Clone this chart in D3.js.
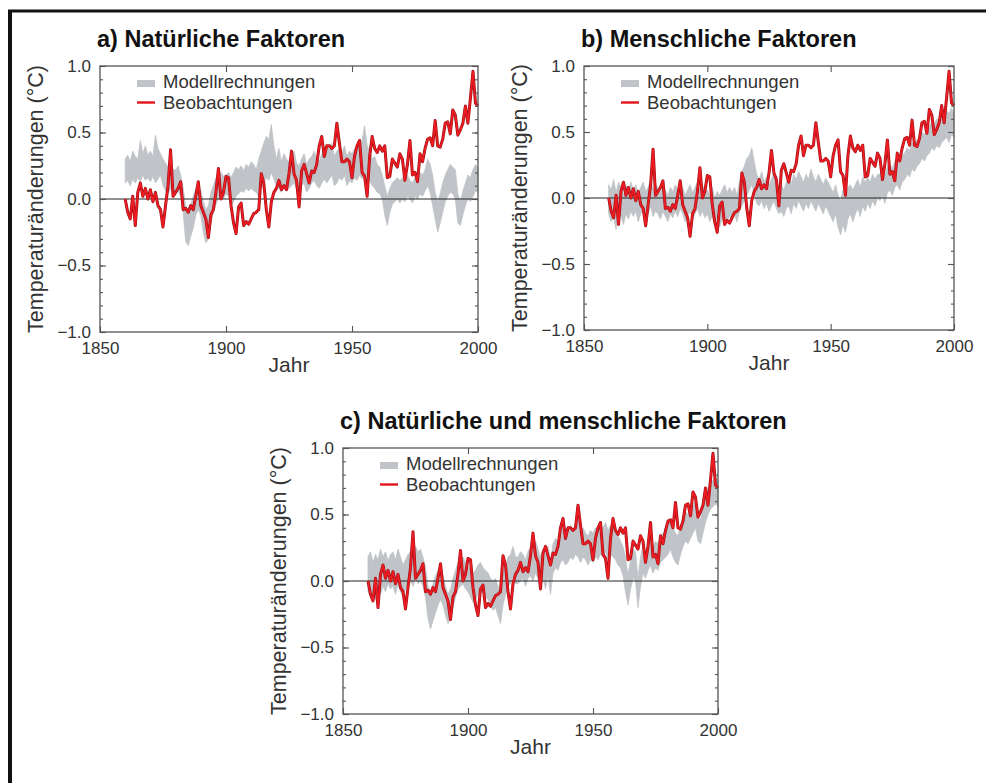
<!DOCTYPE html>
<html>
<head>
<meta charset="utf-8">
<script src="https://cdn.jsdelivr.net/npm/d3@7"></script>
<style>
  body { margin: 0; background: #fff; }
  svg { display: block; font-family: "Liberation Sans", Arial, Helvetica, sans-serif; }
</style>
</head>
<body>
<svg id="chart" width="986" height="783"></svg>
<script>
// years of the record
const years = d3.range(1860, 2001);

// observed global temperature change (°C), 1860-2000
const observed = [
  0.00, -0.10, -0.15, 0.02, -0.20, 0.05, 0.12, 0.02, 0.08, 0.00,
  0.07, -0.02, 0.05, -0.05, -0.08, -0.21, -0.05, 0.10, 0.37, 0.02,
  0.05, 0.08, 0.13, -0.08, -0.07, -0.10, -0.05, -0.08, 0.02, 0.13,
  -0.05, -0.10, -0.15, -0.29, -0.12, -0.08, 0.05, 0.23, 0.00, 0.05,
  0.17, 0.16, -0.05, -0.18, -0.26, -0.06, -0.03, -0.20, -0.17, -0.19,
  -0.15, -0.11, -0.10, -0.08, 0.19, 0.12, -0.08, -0.21, -0.02, 0.05,
  0.08, 0.14, 0.07, 0.10, 0.07, 0.19, 0.36, 0.19, 0.14, -0.06,
  0.21, 0.26, 0.19, 0.12, 0.21, 0.20, 0.26, 0.40, 0.47, 0.32,
  0.40, 0.40, 0.38, 0.40, 0.57, 0.42, 0.28, 0.28, 0.30, 0.28,
  0.16, 0.32, 0.40, 0.44, 0.20, 0.17, 0.02, 0.32, 0.47, 0.38,
  0.35, 0.40, 0.36, 0.40, 0.16, 0.17, 0.30, 0.27, 0.24, 0.34,
  0.30, 0.14, 0.26, 0.44, 0.18, 0.20, 0.13, 0.34, 0.28, 0.38,
  0.45, 0.46, 0.40, 0.59, 0.40, 0.39, 0.45, 0.57, 0.58, 0.49,
  0.67, 0.63, 0.48, 0.52, 0.57, 0.70, 0.57, 0.76, 0.96, 0.72,
  0.70
];

// model range, natural forcing only
const naturalLow = [
  0.12, 0.14, 0.10, 0.15, 0.12, 0.16, 0.13, 0.18, 0.14, 0.16,
  0.13, 0.17, 0.12, 0.15, 0.18, 0.10, 0.06, 0.04, 0.08, 0.02,
  0.04, 0.06, 0.02, -0.10, -0.32, -0.35, -0.28, -0.22, -0.12, -0.08,
  -0.12, -0.25, -0.33, -0.30, -0.18, -0.10, -0.04, 0.00, 0.02, 0.00,
  0.04, 0.02, -0.05, -0.02, 0.02, 0.04, 0.06, 0.05, 0.08, 0.06,
  0.08, 0.06, 0.05, 0.02, 0.08, 0.12, 0.16, 0.14, 0.20, 0.15,
  0.10, 0.08, 0.05, 0.10, 0.06, 0.08, 0.10, 0.12, 0.07, 0.05,
  0.10, 0.12, 0.05, 0.08, 0.12, 0.14, 0.10, 0.08, 0.12, 0.15,
  0.12, 0.15, 0.18, 0.10, 0.12, 0.16, 0.14, 0.18, 0.10, 0.14,
  0.12, 0.16, 0.14, 0.18, 0.15, 0.20, 0.12, 0.14, 0.10, 0.08,
  0.05, 0.04, 0.00, -0.12, -0.20, -0.10, -0.04, -0.02, 0.00, -0.03,
  0.00, -0.02, 0.02, 0.00, -0.03, 0.02, 0.00, 0.04, 0.02, 0.06,
  0.10, 0.05, -0.05, -0.15, -0.25, -0.18, -0.10, -0.02, 0.02, 0.05,
  0.04, 0.00, -0.18, -0.20, -0.12, -0.05, 0.00, -0.02, 0.02, 0.06,
  0.05
];
const naturalHigh = [
  0.30, 0.33, 0.28, 0.36, 0.32, 0.30, 0.44, 0.34, 0.40, 0.33,
  0.36, 0.32, 0.48, 0.38, 0.34, 0.30, 0.27, 0.24, 0.28, 0.22,
  0.22, 0.25, 0.18, 0.08, -0.05, -0.10, -0.04, 0.02, 0.08, 0.10,
  0.06, -0.02, -0.08, -0.05, 0.05, 0.10, 0.16, 0.18, 0.20, 0.17,
  0.18, 0.20, 0.16, 0.20, 0.24, 0.22, 0.25, 0.21, 0.26, 0.24,
  0.28, 0.26, 0.22, 0.30, 0.36, 0.42, 0.47, 0.45, 0.56, 0.40,
  0.30, 0.38, 0.28, 0.34, 0.30, 0.28, 0.32, 0.36, 0.27, 0.25,
  0.30, 0.34, 0.26, 0.30, 0.32, 0.36, 0.30, 0.28, 0.34, 0.38,
  0.34, 0.40, 0.42, 0.32, 0.36, 0.38, 0.34, 0.40, 0.32, 0.36,
  0.34, 0.38, 0.36, 0.40, 0.44, 0.55, 0.40, 0.36, 0.30, 0.32,
  0.26, 0.24, 0.18, 0.10, 0.02, 0.08, 0.12, 0.14, 0.16, 0.14,
  0.16, 0.12, 0.18, 0.14, 0.12, 0.16, 0.14, 0.20, 0.18, 0.22,
  0.30, 0.26, 0.18, 0.05, -0.02, 0.04, 0.12, 0.18, 0.22, 0.26,
  0.24, 0.22, 0.04, -0.02, 0.06, 0.12, 0.18, 0.16, 0.22, 0.26,
  0.24
];

// model range, anthropogenic forcing only
const anthroLow = [
  -0.12, -0.18, -0.15, -0.24, -0.10, -0.14, -0.20, -0.12, -0.16, -0.10,
  -0.14, -0.10, -0.18, -0.12, -0.08, -0.16, -0.12, -0.06, -0.14, -0.10,
  -0.12, -0.16, -0.10, -0.14, -0.18, -0.12, -0.15, -0.10, -0.14, -0.08,
  -0.12, -0.18, -0.14, -0.10, -0.16, -0.12, -0.08, -0.14, -0.10, -0.15,
  -0.12, -0.18, -0.14, -0.20, -0.15, -0.22, -0.16, -0.12, -0.18, -0.14,
  -0.16, -0.12, -0.18, -0.10, -0.06, -0.02, 0.02, 0.06, 0.10, 0.04,
  -0.04, -0.06, -0.02, -0.08, -0.04, -0.10, -0.06, -0.02, -0.08, -0.12,
  -0.10, -0.14, -0.08, -0.06, -0.12, -0.04, -0.08, -0.02, -0.06, -0.10,
  -0.04, -0.08, -0.02, -0.06, -0.10, -0.04, -0.08, -0.12, -0.06, -0.10,
  -0.14, -0.18, -0.12, -0.22, -0.28, -0.20, -0.26, -0.16, -0.12, -0.18,
  -0.12, -0.08, -0.14, -0.06, -0.10, -0.04, -0.08, -0.02, -0.06, 0.00,
  -0.02, 0.02, -0.04, 0.04, 0.06, 0.02, 0.08, 0.10, 0.06, 0.12,
  0.14, 0.18, 0.16, 0.22, 0.20, 0.24, 0.26, 0.30, 0.28, 0.32,
  0.34, 0.38, 0.36, 0.40, 0.38, 0.42, 0.44, 0.46, 0.42, 0.48,
  0.46
];
const anthroHigh = [
  0.10, 0.06, 0.14, 0.04, 0.12, 0.08, 0.02, 0.10, 0.06, 0.12,
  0.06, 0.10, 0.04, 0.08, 0.12, 0.05, 0.08, 0.14, 0.06, 0.10,
  0.08, 0.04, 0.10, 0.06, 0.02, 0.08, 0.05, 0.10, 0.06, 0.12,
  0.08, 0.02, 0.06, 0.10, 0.04, 0.08, 0.12, 0.06, 0.10, 0.05,
  0.06, 0.02, 0.08, 0.00, 0.05, 0.02, 0.06, 0.10, 0.04, 0.08,
  0.04, 0.08, 0.02, 0.12, 0.20, 0.24, 0.30, 0.32, 0.38, 0.28,
  0.18, 0.14, 0.20, 0.12, 0.16, 0.10, 0.14, 0.20, 0.12, 0.08,
  0.10, 0.06, 0.12, 0.16, 0.10, 0.18, 0.14, 0.20, 0.16, 0.12,
  0.18, 0.14, 0.22, 0.16, 0.12, 0.18, 0.14, 0.10, 0.15, 0.12,
  0.08, 0.04, 0.10, 0.02, -0.02, 0.06, 0.00, 0.08, 0.10, 0.06,
  0.10, 0.14, 0.08, 0.16, 0.12, 0.16, 0.12, 0.18, 0.14, 0.18,
  0.18, 0.20, 0.16, 0.24, 0.26, 0.22, 0.28, 0.30, 0.26, 0.32,
  0.34, 0.38, 0.36, 0.42, 0.40, 0.44, 0.46, 0.50, 0.48, 0.52,
  0.54, 0.58, 0.56, 0.60, 0.58, 0.62, 0.64, 0.66, 0.64, 0.68,
  0.64
];

// model range, natural and anthropogenic forcing
const combinedLow = [
  -0.08, -0.12, -0.06, -0.14, -0.05, -0.10, -0.04, -0.08, -0.02, -0.06,
  -0.04, -0.10, -0.02, -0.08, -0.12, -0.06, -0.02, 0.00, -0.04, 0.02,
  -0.02, 0.00, -0.04, -0.12, -0.28, -0.36, -0.30, -0.24, -0.18, -0.14,
  -0.18, -0.26, -0.32, -0.28, -0.20, -0.12, -0.06, -0.04, -0.02, -0.06,
  -0.08, -0.12, -0.16, -0.14, -0.10, -0.06, -0.08, -0.12, -0.14, -0.18,
  -0.22, -0.20, -0.26, -0.32, -0.18, -0.10, -0.04, -0.02, 0.04, -0.02,
  -0.02, 0.00, 0.02, -0.04, 0.02, 0.04, 0.00, 0.06, 0.02, -0.04,
  0.02, -0.06, 0.04, -0.10, 0.06, 0.10, 0.08, 0.14, 0.16, 0.12,
  0.14, 0.18, 0.16, 0.20, 0.18, 0.14, 0.18, 0.16, 0.12, 0.16,
  0.14, 0.18, 0.16, 0.20, 0.18, 0.22, 0.16, 0.20, 0.18, 0.16,
  0.12, 0.10, 0.04, -0.08, -0.18, -0.06, 0.02, 0.00, -0.20, -0.04,
  0.06, 0.02, 0.08, 0.12, 0.06, 0.10, 0.08, 0.14, 0.16, 0.18,
  0.20, 0.24, 0.18, 0.14, 0.12, 0.20, 0.26, 0.30, 0.28, 0.32,
  0.36, 0.40, 0.30, 0.28, 0.36, 0.44, 0.50, 0.54, 0.56, 0.58,
  0.56
];
const combinedHigh = [
  0.18, 0.22, 0.14, 0.20, 0.16, 0.24, 0.18, 0.22, 0.15, 0.20,
  0.22, 0.16, 0.24, 0.18, 0.12, 0.16, 0.20, 0.22, 0.24, 0.26,
  0.22, 0.24, 0.18, 0.10, -0.04, -0.08, -0.02, 0.04, 0.08, 0.10,
  0.04, -0.04, -0.10, -0.06, 0.02, 0.08, 0.14, 0.16, 0.18, 0.14,
  0.12, 0.08, 0.06, 0.08, 0.12, 0.14, 0.10, 0.08, 0.06, 0.02,
  0.00, 0.02, -0.04, -0.10, 0.06, 0.12, 0.18, 0.20, 0.26, 0.18,
  0.18, 0.22, 0.20, 0.16, 0.22, 0.26, 0.22, 0.30, 0.24, 0.18,
  0.24, 0.20, 0.26, 0.14, 0.28, 0.32, 0.30, 0.36, 0.40, 0.34,
  0.38, 0.42, 0.36, 0.44, 0.46, 0.38, 0.40, 0.36, 0.34, 0.38,
  0.36, 0.40, 0.38, 0.42, 0.40, 0.44, 0.38, 0.42, 0.40, 0.38,
  0.34, 0.30, 0.26, 0.18, 0.04, 0.16, 0.24, 0.22, 0.02, 0.18,
  0.26, 0.22, 0.28, 0.32, 0.26, 0.30, 0.28, 0.34, 0.36, 0.38,
  0.42, 0.46, 0.40, 0.36, 0.34, 0.42, 0.48, 0.52, 0.50, 0.54,
  0.56, 0.60, 0.48, 0.46, 0.56, 0.64, 0.70, 0.74, 0.76, 0.78,
  0.76
];

const yTicks = [-1, -0.5, 0, 0.5, 1];
const xTicks = [1850, 1900, 1950, 2000];
const legendLabels = ["Modellrechnungen", "Beobachtungen"];
const titles = [
  "a) Natürliche Faktoren",
  "b) Menschliche Faktoren",
  "c) Natürliche und menschliche Faktoren"
];

const panels = [
  { title: titles[0], low: naturalLow, high: naturalHigh, left: 100, top: 66, w: 378, h: 266 },
  { title: titles[1], low: anthroLow, high: anthroHigh, left: 584, top: 66, w: 370, h: 264 },
  { title: titles[2], low: combinedLow, high: combinedHigh, left: 343, top: 448, w: 375, h: 266 }
];

const svg = d3.select("#chart");

// outer frame (only top and left edge visible)
svg.append("line").attr("x1", 8).attr("x2", 986).attr("y1", 11).attr("y2", 11)
  .attr("stroke", "#111").attr("stroke-width", 3);
svg.append("line").attr("x1", 10).attr("x2", 10).attr("y1", 10).attr("y2", 783)
  .attr("stroke", "#111").attr("stroke-width", 4);

function drawPanel(p) {
  const g = svg.append("g").attr("transform", `translate(${p.left},${p.top})`);
  const x = d3.scaleLinear().domain([1850, 2000]).range([0, p.w]);
  const y = d3.scaleLinear().domain([-1, 1]).range([p.h, 0]);

  const rows = years.map((yr, i) => ({ year: yr, low: p.low[i], high: p.high[i], obs: observed[i] }));

  // model band
  g.append("path")
    .datum(rows)
    .attr("fill", "#c0c3c7")
    .attr("stroke", "#c0c3c7")
    .attr("stroke-width", 0.8)
    .attr("d", d3.area().x(d => x(d.year)).y0(d => y(d.low)).y1(d => y(d.high)));

  // zero line
  g.append("line")
    .attr("x1", 0).attr("x2", p.w)
    .attr("y1", y(0)).attr("y2", y(0))
    .attr("stroke", "#222").attr("stroke-width", 1);

  // observations: dark edge under a red core
  const obsLine = d3.line().x(d => x(d.year)).y(d => y(d.obs));
  g.append("path")
    .datum(rows)
    .attr("fill", "none")
    .attr("stroke", "#9c1218")
    .attr("stroke-width", 3)
    .attr("stroke-linejoin", "round")
    .attr("d", obsLine);
  g.append("path")
    .datum(rows)
    .attr("fill", "none")
    .attr("stroke", "#ee1c22")
    .attr("stroke-width", 1.8)
    .attr("stroke-linejoin", "round")
    .attr("d", obsLine);

  // frame
  g.append("rect").attr("width", p.w).attr("height", p.h)
    .attr("fill", "none").attr("stroke", "#555").attr("stroke-width", 1.3);

  const fmt = d3.format(".1f");
  const minor = d3.range(-10, 11).map(k => k / 10);

  const axes = [
    g.append("g").call(d3.axisLeft(y).tickValues(yTicks).tickSize(-6).tickPadding(9).tickFormat(fmt)),
    g.append("g").call(d3.axisLeft(y).tickValues(minor).tickSize(-3).tickFormat("")),
    g.append("g").attr("transform", `translate(${p.w},0)`)
      .call(d3.axisRight(y).tickValues(yTicks).tickSize(-6).tickFormat("")),
    g.append("g").attr("transform", `translate(${p.w},0)`)
      .call(d3.axisRight(y).tickValues(minor).tickSize(-3).tickFormat("")),
    g.append("g").attr("transform", `translate(0,${p.h})`)
      .call(d3.axisBottom(x).tickValues(xTicks).tickSize(-6).tickPadding(10).tickFormat(d3.format("d"))),
    g.append("g")
      .call(d3.axisTop(x).tickValues(xTicks.slice(1, 3)).tickSize(-6).tickFormat(""))
  ];
  axes.forEach(a => {
    a.select(".domain").remove();
    a.selectAll(".tick line").attr("stroke", "#555").attr("stroke-width", 1.1);
    a.selectAll(".tick text")
      .attr("fill", "#333")
      .style("font-size", "17px")
      .style("font-family", "'Liberation Sans', Arial, sans-serif");
  });

  // axis titles
  g.append("text")
    .attr("transform", `translate(-57,${p.h / 2}) rotate(-90)`)
    .attr("text-anchor", "middle")
    .attr("fill", "#333")
    .style("font-size", "21.5px")
    .text("Temperaturänderungen (°C)");

  g.append("text")
    .attr("x", p.w / 2).attr("y", p.h + 40)
    .attr("text-anchor", "middle")
    .attr("fill", "#333")
    .style("font-size", "21px")
    .text("Jahr");

  // panel title
  g.append("text")
    .attr("x", -3).attr("y", -19)
    .attr("fill", "#111")
    .style("font-size", "23.5px")
    .style("font-weight", "bold")
    .text(p.title);

  // legend
  const lg = g.append("g").attr("transform", "translate(37,0)");
  lg.append("rect").attr("x", 0).attr("y", 14).attr("width", 18).attr("height", 7)
    .attr("fill", "#c0c3c7");
  lg.append("line").attr("x1", 0).attr("x2", 18).attr("y1", 36.5).attr("y2", 36.5)
    .attr("stroke", "#e3141b").attr("stroke-width", 2.4);
  lg.selectAll("text.leg")
    .data(legendLabels)
    .join("text")
    .attr("class", "leg")
    .attr("x", 26)
    .attr("y", (d, i) => 22 + i * 21)
    .attr("fill", "#333")
    .style("font-size", "18.5px")
    .text(d => d);
}

panels.forEach(drawPanel);
</script>
</body>
</html>
